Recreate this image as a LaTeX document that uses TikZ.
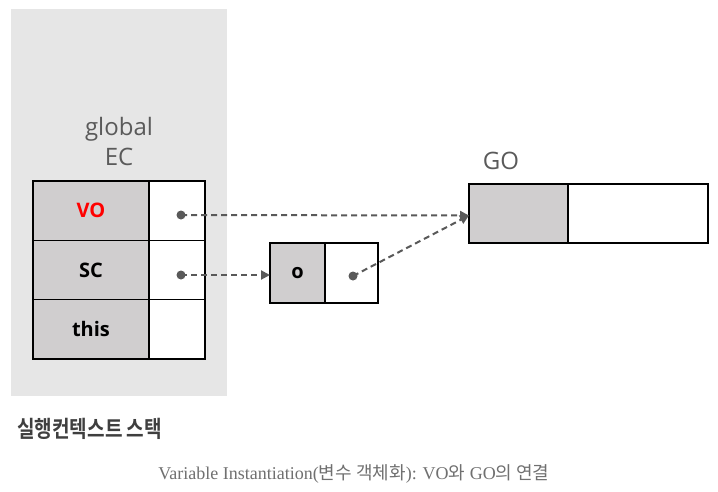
\documentclass[tikz,border=0pt]{standalone}
\usepackage{fontspec}
\setmainfont{Liberation Serif}
\newfontfamily\ns{Open Sans}
\newfontfamily\kr{Noto Sans CJK KR}[BoldFont={Noto Sans CJK KR Bold}]
\usetikzlibrary{arrows.meta}
\definecolor{bgpanel}{HTML}{E6E6E6}
\definecolor{cellgray}{HTML}{D0CECF}
\definecolor{linegray}{HTML}{595959}
\definecolor{titlegray}{HTML}{5A5A5A}
\definecolor{capgray}{HTML}{707070}
\definecolor{korgray}{HTML}{3F3F3F}
\tikzset{
  cell/.style={draw=black, line width=1.6pt, inner sep=0pt, outer sep=0pt, font=\ns\bfseries\fontsize{20}{24}\selectfont},
  gcell/.style={cell, fill=cellgray},
  wcell/.style={cell, fill=white},
  dot/.style={circle, fill=linegray, inner sep=0pt, minimum size=9pt},
  ptr/.style={draw=linegray, line width=2pt, dash pattern=on 6pt off 4pt, -{Triangle[length=9pt,width=9pt]}},
  title/.style={font=\ns\fontsize{24}{28}\selectfont, text=titlegray, inner sep=0pt}
}
\begin{document}
\begin{tikzpicture}[x=1pt,y=-1pt]
\useasboundingbox (0,0) rectangle (718,491);
\fill[white] (0,0) rectangle (718,491);
\fill[bgpanel] (11,9) rectangle (227,396);
% stack table
\node[gcell, minimum width=116pt, minimum height=59.3pt, text=red] (vo) at (91,210.7) {VO};
\node[wcell, minimum width=56pt, minimum height=59.3pt] (vov) at (177,210.7) {};
\node[gcell, minimum width=116pt, minimum height=59.3pt] (sc) at (91,270) {SC};
\node[wcell, minimum width=56pt, minimum height=59.3pt] (scv) at (177,270) {};
\node[gcell, minimum width=116pt, minimum height=59.3pt] (this) at (91,329.3) {this};
\node[wcell, minimum width=56pt, minimum height=59.3pt] (thisv) at (177,329.3) {};
\node[title, anchor=base] (glabel) at (119,135) {global};
\node[title, anchor=base] (eclabel) at (119,165) {EC};
% small object
\node[gcell, minimum width=55pt, minimum height=60pt] (o) at (297.5,273) {o};
\node[wcell, minimum width=53pt, minimum height=60pt] (ov) at (351.5,273) {};
% GO
\node[gcell, minimum width=99pt, minimum height=59pt] (go) at (518.5,213.5) {};
\node[wcell, minimum width=140pt, minimum height=59pt] (gov) at (638,213.5) {};
\node[title, anchor=base] (golabel) at (501,169) {GO};
% dots
\node[dot] (d1) at (181,215) {};
\node[dot] (d2) at (181,275) {};
\node[dot] (d3) at (353,276) {};
\coordinate (gotip) at (469,215.5);
\draw[ptr] (d1.center) -- (gotip);
\draw[ptr] (d2.center) -- (o.west |- d2);
\draw[ptr] (d3.center) -- (gotip);
% texts
\node[anchor=west, inner sep=0pt, text=korgray] (stack) at (17,429) {\scalebox{0.83}[1]{\kr\bfseries\fontsize{23}{27}\selectfont 실행컨텍스트 스택}};
\node[inner sep=0pt, text=capgray, font=\fontsize{18}{21}\selectfont] (cap) at (354,474) {Variable Instantiation({\kr 변수 객체화}): VO{\kr 와} GO{\kr 의 연결}};
\end{tikzpicture}
\end{document}
